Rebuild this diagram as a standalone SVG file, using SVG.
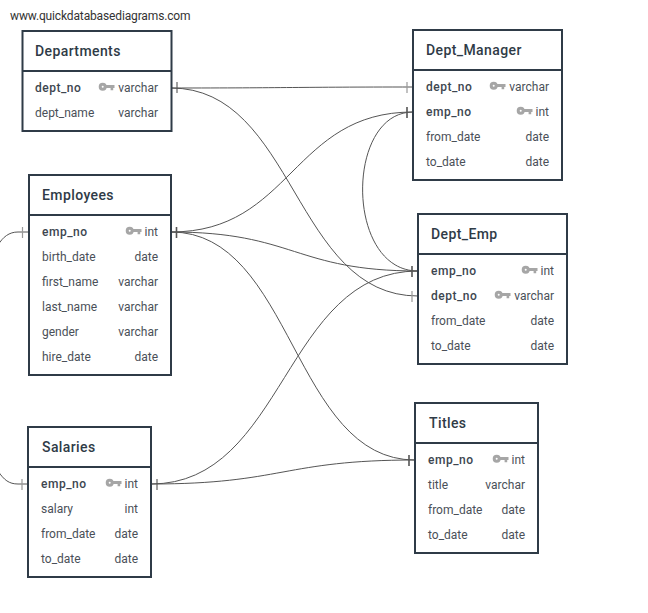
<svg xmlns="http://www.w3.org/2000/svg" width="648" height="613" viewBox="0 0 648 613">
<style>
text{font-family:Roboto,"Liberation Sans",sans-serif;font-size:12px;fill:#4a5058}
.site{fill:#333;font-size:12px;letter-spacing:-.14px}
.t{font-size:14px;font-weight:500;fill:#2f3b47;letter-spacing:.4px}
.p{font-weight:500;fill:#3d4650;letter-spacing:.5px}
.r{text-anchor:end}
.box{fill:#fff;stroke:#2f3b47;stroke-width:2}
.sep{stroke:#2f3b47;stroke-width:2}
.c{fill:none;stroke:#555;stroke-width:1}
.tick{stroke:#999;stroke-width:1.200;fill:none}
.tick1{stroke:#555;stroke-width:1.100;fill:none}
.tick2{stroke:#555;stroke-width:1.600;fill:none}
</style>
<defs>
<g id="key"><circle cx="3.700" cy="-.2" r="2.500" fill="none" stroke="#a6a6a6" stroke-width="3"/><path d="M6 -2H15.500V1H14.200V3.200H11.600V1H6Z" fill="#a6a6a6"/></g>
</defs>
<rect width="648" height="613" fill="#fff"/>
<text class="site" x="10" y="20">www.quickdatabasediagrams.com</text>
<g id="connectors">
<path class="c" d="M171 88C290 88 295 87 413 87"/>
<path class="c" d="M171 88C295 88 294 296 418 296"/>
<path class="c" d="M171 232C292 232 292 112 413 112"/>
<path class="c" d="M171 232C295 232 294 271 418 271"/>
<path class="c" d="M171 232C293 232 293 460 415 460"/>
<path class="c" d="M151 484C285 484 284 271 418 271"/>
<path class="c" d="M151 484C283 484 283 460 415 460"/>
<path class="c" d="M413 112C345 112 345 271 418 271"/>
<path class="c" d="M29 232H18C9 232 3 237 -2 245M28 484H18C9 484 4 480 -2 471"/>
<path class="tick" d="M407 82V93M412 291V302M22.500 227V238M22 479V490"/>
<path class="tick1" d="M177 82V93M157 479V490"/>
<path class="tick2" d="M407 107V118M176.500 227V238M412 266V277M409 455V466"/>
</g>
<g id="departments">
<rect class="box" x="22.500" y="31" width="149" height="100"/><path class="sep" d="M22 71H171"/>
<text class="t" x="35" y="56">Departments</text>
<text class="p" x="35" y="92">dept_no</text><use href="#key" x="99" y="87"/><text class="r" x="158" y="92">varchar</text>
<text x="35" y="117">dept_name</text><text class="r" x="158" y="117">varchar</text>
</g>
<g id="dept_manager">
<rect class="box" x="413" y="30" width="149" height="150"/><path class="sep" d="M413 70H562"/>
<text class="t" x="426" y="55">Dept_Manager</text>
<text class="p" x="426" y="91">dept_no</text><use href="#key" x="490" y="86"/><text class="r" x="549" y="91">varchar</text>
<text class="p" x="426" y="116">emp_no</text><use href="#key" x="517" y="111"/><text class="r" x="549" y="116">int</text>
<text x="426" y="141">from_date</text><text class="r" x="549" y="141">date</text>
<text x="426" y="166">to_date</text><text class="r" x="549" y="166">date</text>
</g>
<g id="employees">
<rect class="box" x="29" y="175" width="142" height="200"/><path class="sep" d="M29 215H171"/>
<text class="t" x="42" y="200">Employees</text>
<text class="p" x="42" y="236">emp_no</text><use href="#key" x="126" y="231"/><text class="r" x="158" y="236">int</text>
<text x="42" y="261">birth_date</text><text class="r" x="158" y="261">date</text>
<text x="42" y="286">first_name</text><text class="r" x="158" y="286">varchar</text>
<text x="42" y="311">last_name</text><text class="r" x="158" y="311">varchar</text>
<text x="42" y="336">gender</text><text class="r" x="158" y="336">varchar</text>
<text x="42" y="361">hire_date</text><text class="r" x="158" y="361">date</text>
</g>
<g id="dept_emp">
<rect class="box" x="418" y="214" width="149" height="150"/><path class="sep" d="M418 254H567"/>
<text class="t" x="431" y="239">Dept_Emp</text>
<text class="p" x="431" y="275">emp_no</text><use href="#key" x="522" y="270"/><text class="r" x="554" y="275">int</text>
<text class="p" x="431" y="300">dept_no</text><use href="#key" x="495" y="295"/><text class="r" x="554" y="300">varchar</text>
<text x="431" y="325">from_date</text><text class="r" x="554" y="325">date</text>
<text x="431" y="350">to_date</text><text class="r" x="554" y="350">date</text>
</g>
<g id="salaries">
<rect class="box" x="28" y="427" width="123" height="150"/><path class="sep" d="M28 467H151"/>
<text class="t" x="42" y="452">Salaries</text>
<text class="p" x="41" y="488">emp_no</text><use href="#key" x="106" y="483"/><text class="r" x="138" y="488">int</text>
<text x="41" y="513">salary</text><text class="r" x="138" y="513">int</text>
<text x="41" y="538">from_date</text><text class="r" x="138" y="538">date</text>
<text x="41" y="563">to_date</text><text class="r" x="138" y="563">date</text>
</g>
<g id="titles">
<rect class="box" x="415" y="403" width="123" height="150"/><path class="sep" d="M415 443H538"/>
<text class="t" x="429" y="428">Titles</text>
<text class="p" x="428" y="464">emp_no</text><use href="#key" x="493" y="459"/><text class="r" x="525" y="464">int</text>
<text x="428" y="489">title</text><text class="r" x="525" y="489">varchar</text>
<text x="428" y="514">from_date</text><text class="r" x="525" y="514">date</text>
<text x="428" y="539">to_date</text><text class="r" x="525" y="539">date</text>
</g>
</svg>
